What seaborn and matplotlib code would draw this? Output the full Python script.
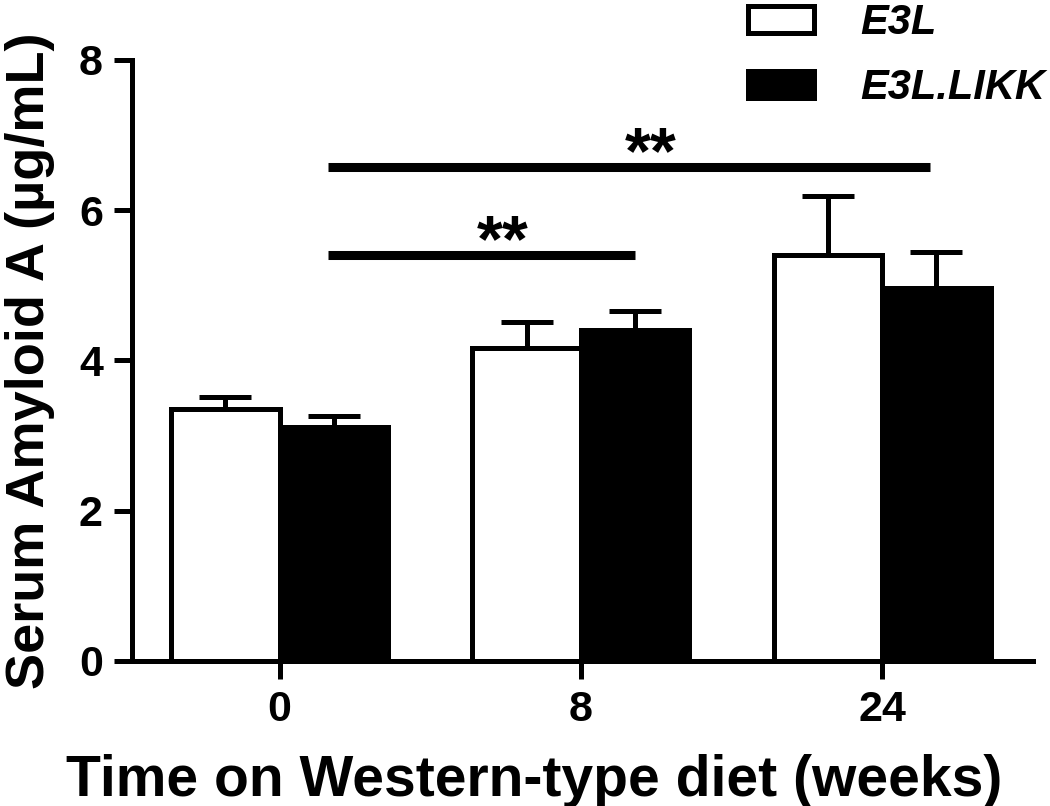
import matplotlib
matplotlib.use('Agg')
import matplotlib.pyplot as plt
import pandas as pd
import seaborn as sns
from matplotlib.patches import Patch

# data (mean and SEM, ug/mL)
weeks = ['0', '8', '24']
groups = ['E3L', 'E3L.LIKK']
e3l_mean = [3.36, 4.17, 5.41]
e3l_sem = [0.15, 0.34, 0.78]
likk_mean = [3.11, 4.40, 4.96]
likk_sem = [0.15, 0.26, 0.48]

df = pd.DataFrame({
    'week': weeks * 2,
    'group': [groups[0]] * 3 + [groups[1]] * 3,
    'saa': e3l_mean + likk_mean,
    'sem': e3l_sem + likk_sem,
})

sns.set_style('ticks')
plt.rcParams['font.family'] = ['Liberation Sans', 'DejaVu Sans']
plt.rcParams['font.weight'] = 'bold'
for key in ['text.color', 'axes.labelcolor', 'xtick.color', 'ytick.color', 'axes.edgecolor']:
    plt.rcParams[key] = 'black'
lw = 3.6

fig = plt.figure(figsize=(10.5, 8.06), dpi=100)
ax = fig.add_axes([0.1257, 0.180, 0.858, 0.7456])

sns.barplot(data=df, x='week', y='saa', hue='group', order=weeks, hue_order=groups,
            palette=['white', 'black'], edgecolor='black', linewidth=lw,
            width=0.72, errorbar=None, legend=False, ax=ax)

# upward-only error bars on top of each bar
for bar, (_, row) in zip(ax.patches, df.iterrows()):
    xc = bar.get_x() + bar.get_width() / 2
    ax.errorbar(xc, row['saa'], yerr=[[0], [row['sem']]], fmt='none', ecolor='black',
                elinewidth=lw, capsize=19, capthick=lw, zorder=1)

# significance bars
ax.plot([0.16, 1.18], [5.40, 5.40], color='black', lw=6.5, solid_capstyle='butt')
ax.plot([0.16, 2.16], [6.58, 6.58], color='black', lw=6.5, solid_capstyle='butt')
ax.text(0.74, 5.13, '**', ha='center', va='bottom', fontsize=48, fontweight='bold')
ax.text(1.23, 6.31, '**', ha='center', va='bottom', fontsize=48, fontweight='bold')

ax.set_xlim(-0.49, 2.5)
ax.set_ylim(0, 8)
ax.set_yticks([0, 2, 4, 6, 8])
for side in ['top', 'right']:
    ax.spines[side].set_visible(False)
for side in ['left', 'bottom']:
    ax.spines[side].set_linewidth(lw)
ax.tick_params(axis='both', width=lw, length=13, labelsize=31, pad=8)
ax.set_xlabel('Time on Western-type diet (weeks)', fontsize=41, fontweight='bold')
ax.xaxis.set_label_coords(0.446, -0.155)
ax.set_ylabel('Serum Amyloid A (\u00b5g/mL)', fontsize=39, fontweight='bold', labelpad=17)

handles = [Patch(facecolor='white', edgecolor='black', linewidth=lw, joinstyle='round'),
           Patch(facecolor='black', edgecolor='black', linewidth=lw, joinstyle='round')]
fig.legend(handles, groups, loc='upper left', bbox_to_anchor=(0.712, 0.996),
           frameon=False, borderpad=0, borderaxespad=0,
           handlelength=1.6, handleheight=0.62, handletextpad=1.1, labelspacing=0.6,
           prop={'size': 30, 'weight': 'bold', 'style': 'italic'})

fig.savefig('out.png', dpi=100)
